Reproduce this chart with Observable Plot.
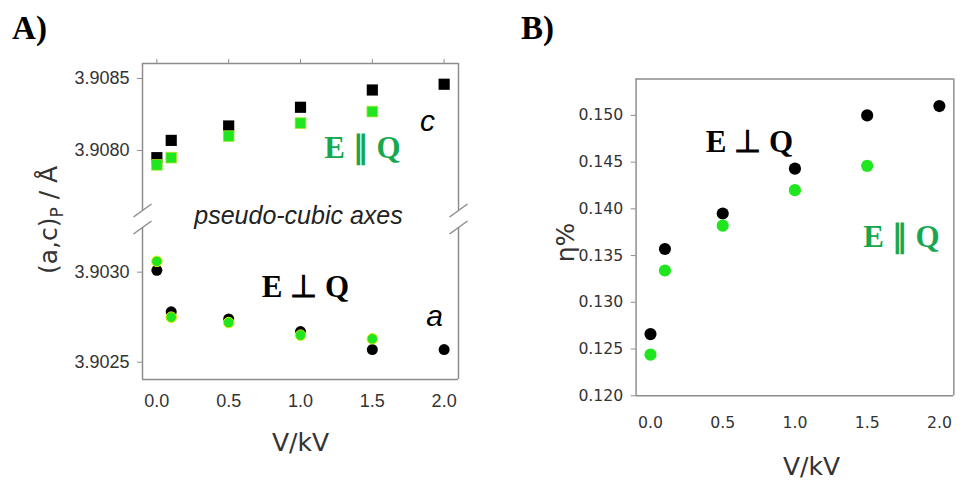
<!DOCTYPE html>
<html>
<head>
<meta charset="utf-8">
<script src="https://cdn.jsdelivr.net/npm/d3@7"></script>
<script src="https://cdn.jsdelivr.net/npm/@observablehq/plot@0.6"></script>
<style>
html, body { margin: 0; padding: 0; background: #fff; overflow: hidden; }
#wrap { position: relative; width: 971px; height: 481px; overflow: hidden; background: #fff; }
#wrap svg { position: absolute; left: 0; top: 0; }
</style>
</head>
<body>
<div id="wrap"></div>
<script>
// ---- data ----
const voltage = [0, 0.1, 0.5, 1.0, 1.5, 2.0];
const voltagePar = [0, 0.1, 0.5, 1.0, 1.5];
const cPerp = [3.90795, 3.90807, 3.90817, 3.90830, 3.90842, 3.90846];
const cPar = [3.90790, 3.90795, 3.90810, 3.90819, 3.90827];
const aPerp = [3.90301, 3.90278, 3.90274, 3.90267, 3.90257, 3.90257];
const aPar = [3.90306, 3.90275, 3.90272, 3.90265, 3.90263];
const etaPerp = [0.1266, 0.1357, 0.1395, 0.1443, 0.1500, 0.1510];
const etaPar = [0.1244, 0.1334, 0.1382, 0.1420, 0.1446];
const xTicks = [0, 0.5, 1.0, 1.5, 2.0];
const cTicks = [3.9080, 3.9085];
const aTicks = [3.9025, 3.9030];
const etaTicks = [0.120, 0.125, 0.130, 0.135, 0.140, 0.145, 0.150];

// ---- layout / style ----
const W = 971, H = 481;
const gray = "#8c8c8c";
const dotGreen = "#1fe61f";
const textGreen = "#17a84f";
const tickText = "#333";
const xDomain = [-0.1, 2.1];
const cDomain = [3.907583, 3.908604];
const aDomain = [3.902404, 3.903248];
const etaDomain = [0.120, 0.1539];
const styleA = {background: "transparent", overflow: "visible", fontFamily: "Liberation Sans, Arial, sans-serif", fontSize: "18px"};
const styleB = {background: "transparent", overflow: "visible", fontFamily: "DejaVu Sans, sans-serif", fontSize: "16px"};

// break slash helper (pixel half-sizes converted to data units)
function slashes(domX, domY, pxW, pxH, atY) {
  const kx = (domX[1] - domX[0]) / pxW, ky = (domY[1] - domY[0]) / pxH;
  return [domX[0], domX[1]].map(x => ({x1: x - 9 * kx, y1: atY - 6.5 * ky, x2: x + 9 * kx, y2: atY + 6.5 * ky}));
}

const wrap = document.getElementById("wrap");

// Panel A, upper part (c)
const upper = Plot.plot({
  width: W, height: H,
  marginLeft: 142, marginRight: W - 458, marginTop: 63, marginBottom: H - 210,
  x: {domain: xDomain}, y: {domain: cDomain},
  style: styleA,
  marks: [
    Plot.ruleX(xDomain, {stroke: gray, strokeWidth: 1.5}),
    Plot.ruleY([cDomain[1]], {stroke: gray, strokeWidth: 1.5}),
    Plot.axisX(xTicks, {anchor: "top", tickSize: 5, tickFormat: () => "", stroke: gray, label: null}),
    Plot.axisY(cTicks, {anchor: "left", tickSize: 5, tickPadding: 8, tickFormat: d => d.toFixed(4), stroke: gray, fill: tickText, label: null}),
    Plot.link(slashes(xDomain, cDomain, 316, 147, cDomain[0]), {x1: "x1", y1: "y1", x2: "x2", y2: "y2", stroke: gray, strokeWidth: 1.5}),
    Plot.dot(cPerp, {x: voltage, y: cPerp, symbol: "square", r: 6.3, fill: "black"}),
    Plot.dot(cPar, {x: voltagePar, y: cPar, symbol: "square", r: 6, fill: dotGreen, stroke: "#9fe81f", strokeWidth: 0.8})
  ]
});

// Panel A, lower part (a)
const lower = Plot.plot({
  width: W, height: H,
  marginLeft: 142, marginRight: W - 458, marginTop: 227, marginBottom: H - 379,
  x: {domain: xDomain}, y: {domain: aDomain},
  style: styleA,
  marks: [
    Plot.ruleX(xDomain, {stroke: gray, strokeWidth: 1.5}),
    Plot.ruleY([aDomain[0]], {stroke: gray, strokeWidth: 1.5}),
    Plot.axisX(xTicks, {anchor: "bottom", tickSize: 0, tickPadding: 15, tickFormat: d => d.toFixed(1), fill: tickText, label: null}),
    Plot.axisY(aTicks, {anchor: "left", tickSize: 5, tickPadding: 8, tickFormat: d => d.toFixed(4), stroke: gray, fill: tickText, label: null}),
    Plot.link(slashes(xDomain, aDomain, 316, 152, aDomain[1]), {x1: "x1", y1: "y1", x2: "x2", y2: "y2", stroke: gray, strokeWidth: 1.5}),
    Plot.dot(aPerp, {x: voltage, y: aPerp, r: 5.5, fill: "black"}),
    Plot.dot(aPar, {x: voltagePar, y: aPar, r: 5.3, fill: dotGreen, stroke: "#e6f000", strokeWidth: 1})
  ]
});

// Panel B (eta)
const panelB = Plot.plot({
  width: 990, height: H,
  marginLeft: 648, marginRight: 18, marginTop: 80, marginBottom: H - 403,
  x: {domain: xDomain}, y: {domain: etaDomain},
  style: styleB,
  marks: [
    Plot.ruleX(xDomain, {stroke: gray, strokeWidth: 1.5}),
    Plot.ruleY(etaDomain, {stroke: gray, strokeWidth: 1.5}),
    Plot.axisY(etaTicks, {anchor: "left", tickSize: 5, tickPadding: 8, tickFormat: d => d.toFixed(3), stroke: gray, fill: tickText, label: null}),
    Plot.axisX(xTicks, {anchor: "bottom", tickSize: 0, tickPadding: 22, tickFormat: d => d.toFixed(1), fill: tickText, label: null}),
    Plot.dot(etaPerp, {x: voltage, y: etaPerp, r: 6.2, fill: "black"}),
    Plot.dot(etaPar, {x: voltagePar, y: etaPar, r: 6.2, fill: dotGreen})
  ]
});

// Annotations (text placed in page pixels)
const serif = "Liberation Serif, Times New Roman, serif";
const sans = "DejaVu Sans, sans-serif";
function label(str, px, py, o) {
  return Plot.text([str], {text: d => d, frameAnchor: "top-left", dx: px, dy: py, textAnchor: "middle", lineAnchor: "middle", ...o});
}
const bold = {fontFamily: serif, fontWeight: "bold", fontSize: 31};
const ann = Plot.plot({
  width: W, height: H, margin: 0,
  style: {background: "transparent", overflow: "visible"},
  marks: [
    label("A)", 29, 28, {...bold, fontSize: 33, fill: "black"}),
    label("B)", 537, 28, {...bold, fontSize: 33, fill: "black"}),
    label("E \u2225 Q", 362, 148, {...bold, fill: textGreen}),
    label("E \u22A5 Q", 305, 287, {...bold, fill: "black"}),
    label("E \u22A5 Q", 749, 142, {...bold, fill: "black"}),
    label("E \u2225 Q", 901, 237, {...bold, fill: textGreen}),
    label("c", 427, 121, {fontFamily: "Liberation Sans, Arial, sans-serif", fontStyle: "italic", fontSize: 30, fill: "black"}),
    label("a", 434, 316, {fontFamily: "Liberation Sans, Arial, sans-serif", fontStyle: "italic", fontSize: 30, fill: "black"}),
    label("pseudo-cubic axes", 298, 215, {fontFamily: "Liberation Sans, Arial, sans-serif", fontStyle: "italic", fontSize: 25, fill: "#222"}),
    label("V/kV", 300, 442, {fontFamily: sans, fontSize: 25, fill: tickText}),
    label("V/kV", 811, 466, {fontFamily: sans, fontSize: 25, fill: tickText}),
    label("\u03B7%", 565, 242, {fontFamily: sans, fontSize: 25, fill: tickText, rotate: -90})
  ]
});

// y title of panel A with subscript
const yt = d3.select(ann).append("text")
  .attr("transform", "translate(48,220) rotate(-90)")
  .attr("text-anchor", "middle")
  .attr("dy", "0.35em")
  .attr("font-family", sans)
  .attr("font-size", 25)
  .attr("fill", tickText);
yt.append("tspan").text("(a,c)");
yt.append("tspan").attr("font-size", 17).attr("dy", 6).text("P");
yt.append("tspan").attr("dy", -6).text(" / \u00C5");

wrap.append(upper, lower, panelB, ann);
</script>
</body>
</html>
